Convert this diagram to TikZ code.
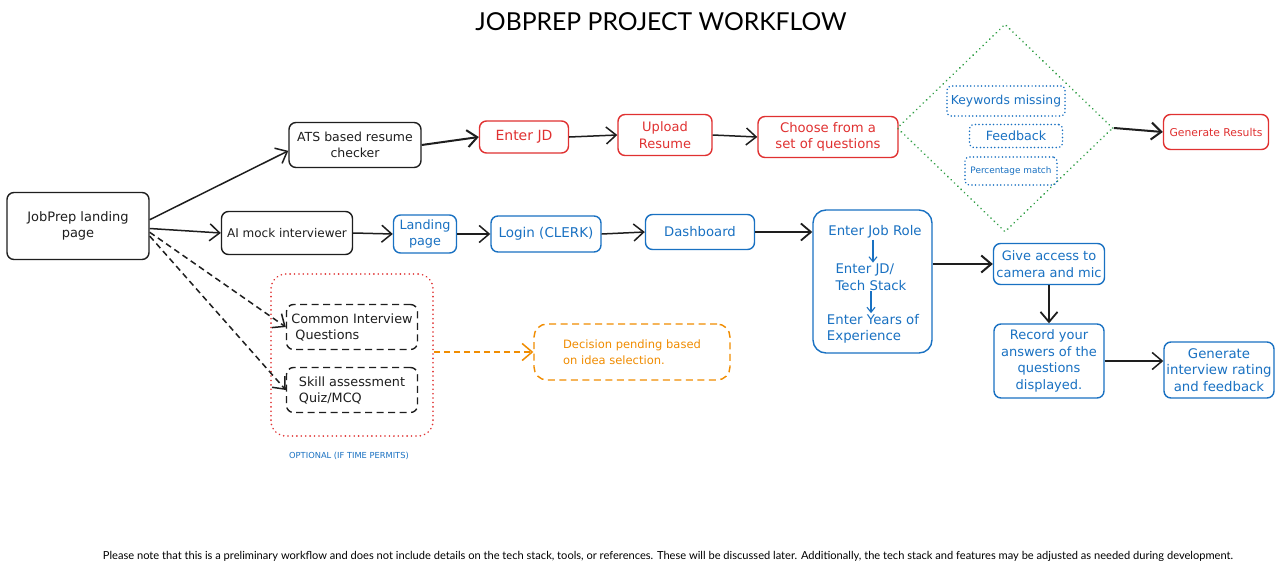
\documentclass[tikz,border=0pt]{standalone}
\usepackage{fontspec}
\usepackage{graphicx}
\setmainfont{DejaVu Sans}
\newfontfamily\titlefont{Lato}
\usetikzlibrary{arrows.meta,shapes.geometric}
\definecolor{ink}{HTML}{1E1E1E}
\definecolor{xred}{HTML}{E03131}
\definecolor{xblue}{HTML}{1971C2}
\definecolor{xgreen}{HTML}{2F9E44}
\definecolor{xorange}{HTML}{F08C00}
\tikzset{
  box/.style={draw=ink, line width=1.4pt, rounded corners=7pt, align=center,
    font=\fontsize{13}{16.5}\selectfont, text=ink, inner sep=1pt},
  redbox/.style={box, draw=xred, text=xred},
  bluebox/.style={box, draw=xblue, text=xblue},
  dotbox/.style={box, draw=xblue, text=xblue, rounded corners=4pt, line width=1.7pt,
    dash pattern=on 0.01pt off 3.6pt, line cap=round},
  dashbox/.style={box, dash pattern=on 7pt off 4.5pt},
  inner/.style={text=xblue, align=left, font=\fontsize{13.3}{16.5}\selectfont, inner sep=1pt},
  arr/.style={-{Straight Barb[length=10pt,width=17pt]}, line width=1.5pt, draw=ink},
  thinarr/.style={-{Straight Barb[length=5pt,width=8pt]}, line width=1.1pt, draw=xblue},
}
\begin{document}
\begin{tikzpicture}[x=1pt,y=-1pt]
\fill[white] (0,0) rectangle (1280,570);
\useasboundingbox (0,0) rectangle (1280,570);

% title
\node (title) at (661,22) {\resizebox{371pt}{!}{\titlefont JOBPREP PROJECT WORKFLOW}};

% left side
\node[box, minimum width=142, minimum height=67] (home) at (78,226) {JobPrep landing\\page};
\node[box, minimum width=132, minimum height=45, font=\fontsize{12.5}{16}\selectfont] (ats) at (355,145) {ATS based resume\\checker};
\node[box, minimum width=131, minimum height=43, font=\fontsize{12}{15}\selectfont] (ai) at (287,233) {AI mock interviewer};

% red row
\node[redbox, minimum width=89, minimum height=32, font=\fontsize{14}{16}\selectfont] (jd) at (524,137) {Enter JD};
\node[redbox, minimum width=94, minimum height=41] (up) at (665,135) {Upload\\Resume};
\node[redbox, minimum width=140, minimum height=41, font=\fontsize{13.2}{16.5}\selectfont] (choose) at (828,137) {Choose from a\\set of questions};
\node[draw=xgreen, shape=diamond, minimum width=216, minimum height=208, inner sep=0pt,
  line width=1.9pt, dash pattern=on 0.01pt off 4.6pt, line cap=round] (dia) at (1005,128) {};
\node[dotbox, minimum width=118, minimum height=30, font=\fontsize{12.3}{15}\selectfont] (kw) at (1006,101) {Keywords missing};
\node[dotbox, minimum width=93, minimum height=23, font=\fontsize{12.7}{15}\selectfont] (fb) at (1016,136) {Feedback};
\node[dotbox, minimum width=92, minimum height=28, font=\fontsize{8.9}{11}\selectfont] (pm) at (1011,171) {Percentage match};
\node[redbox, minimum width=105, minimum height=35, font=\fontsize{10.8}{13}\selectfont] (gen) at (1216,132) {Generate Results};

% blue row
\node[bluebox, minimum width=63, minimum height=38, font=\fontsize{12.8}{16}\selectfont] (land) at (425,234) {Landing\\page};
\node[bluebox, minimum width=110, minimum height=36, font=\fontsize{13.5}{16}\selectfont] (login) at (546,234) {Login (CLERK)};
\node[bluebox, minimum width=109, minimum height=35, font=\fontsize{13.2}{16}\selectfont] (dash) at (700,232) {Dashboard};
\node[bluebox, minimum width=119, minimum height=143, rounded corners=13pt] (role) at (872.5,281.5) {};
\node[inner] (jr1) at (875,232) {Enter Job Role};
\node[inner] (jr2) at (871,277) {Enter JD/\\Tech Stack};
\node[inner] (jr3) at (873,329) {Enter Years of\\Experience};
\node[bluebox, minimum width=111, minimum height=41] (give) at (1049,264) {Give access to\\camera and mic};
\node[bluebox, minimum width=110, minimum height=74] (rec) at (1049,361) {Record your\\answers of the\\questions\\displayed.};
\node[bluebox, minimum width=110, minimum height=56, font=\fontsize{13.3}{16.5}\selectfont] (rate) at (1219,370) {Generate\\interview rating\\and feedback};

% optional group
\node[draw=xred, line width=1.8pt, rounded corners=15pt, dash pattern=on 0.01pt off 4.4pt,
  line cap=round, minimum width=162, minimum height=162] (opt) at (352,355) {};
\node[dashbox, minimum width=131, minimum height=45, align=left, font=\fontsize{12.8}{16}\selectfont] (ciq) at (352,327) {Common Interview\\\ Questions};
\node[dashbox, minimum width=131, minimum height=45, align=left, font=\fontsize{12.8}{16}\selectfont] (skill) at (352,390) {Skill assessment\\Quiz/MCQ};
\node[text=xblue, font=\fontsize{8.3}{10}\selectfont] (optlabel) at (349,456) {OPTIONAL (IF TIME PERMITS)};
\node[box, draw=xorange, text=xorange, dash pattern=on 7pt off 4.5pt, rounded corners=13pt,
  minimum width=196, minimum height=56, align=left, font=\fontsize{11.5}{16}\selectfont] (dec) at (632,352)
  {Decision pending based\\on idea selection.};

% connectors
\draw[arr] (home.5) -- (ats.-175);
\draw[arr] (home.-2) -- (ai.west);
\draw[arr, dash pattern=on 6pt off 4pt] (home.-5) -- (ciq.west);
\draw[arr, dash pattern=on 6pt off 4pt] (home.-8) -- (skill.west);
\draw[arr, line width=2pt] (ats.east) -- (jd.west);
\draw[arr] (jd.east) -- (up.west);
\draw[arr] (up.east) -- (choose.west);
\draw[arr, line width=2pt] (dia.east) -- (gen.west);
\draw[arr] (ai.east) -- (land.west);
\draw[arr] (land.east) -- (login.west);
\draw[arr] (login.east) -- (dash.west);
\draw[arr, line width=1.8pt] (dash.east) -- (dash.east -| role.west);
\draw[thinarr] (jr1.south) ++(-2,0) coordinate (jr1s) -- (jr1s |- jr2.north);
\draw[thinarr] (jr2.south) ++(0,0) coordinate (jr2s) -- (jr2s |- jr3.north);
\draw[arr, line width=2pt] (give.west -| role.east) -- (give.west);
\draw[arr, line width=1.8pt] (give.south) -- (rec.north);
\draw[arr] (rec.east) -- (rec.east -| rate.west);
\draw[arr, draw=xorange, dash pattern=on 6pt off 4pt] (opt.east |- dec.west) -- (dec.west);

% footnote
\node (note) at (668,556) {\resizebox{1130pt}{!}{\titlefont Please note that this is a preliminary workflow and does not include details on the tech stack, tools, or references. These will be discussed later. Additionally, the tech stack and features may be adjusted as needed during development.}};
\end{tikzpicture}
\end{document}
